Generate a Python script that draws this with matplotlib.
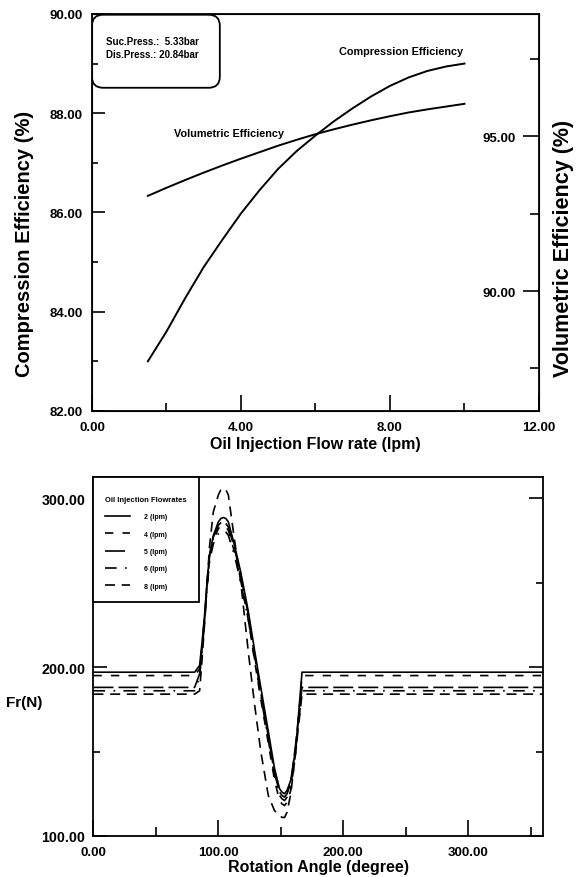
import matplotlib
matplotlib.use("Agg")
import matplotlib.pyplot as plt
from matplotlib.patches import FancyBboxPatch
from matplotlib.ticker import MultipleLocator, FormatStrFormatter

plt.rcParams['font.family'] = ['Liberation Sans', 'DejaVu Sans']
plt.rcParams['font.weight'] = 'bold'
plt.rcParams['axes.labelweight'] = 'bold'

# --- top: efficiencies vs oil injection flow rate
flow = [1.5, 2, 2.5, 3, 3.5, 4, 4.5, 5, 5.5, 6, 6.5, 7, 7.5, 8, 8.5, 9, 9.5, 10]
comp_eff = [83.0, 83.6, 84.27, 84.9, 85.45, 85.98, 86.45, 86.88, 87.24, 87.55,
            87.84, 88.1, 88.34, 88.55, 88.72, 88.85, 88.94, 89.0]
vol_eff = [93.07, 93.33, 93.58, 93.82, 94.05, 94.27, 94.48, 94.69, 94.88, 95.06,
           95.22, 95.37, 95.51, 95.64, 95.76, 95.86, 95.95, 96.04]

# --- bottom: Fr vs rotation angle for each oil injection flow rate
angle = [0, 81, 85, 87, 89, 91, 93, 96, 100, 102, 104, 106, 108, 113, 118, 124, 129,
         134, 140, 145, 149, 151, 153, 155, 158, 162, 167, 360]
fr_2 = [197, 197, 201, 215, 231, 251, 267, 278, 286, 288, 288.6, 288, 286, 272, 256,
        233, 210, 188, 162, 140, 128, 126, 125, 127, 133, 152, 197, 197]
fr_4 = [195, 195, 199, 212, 228, 248, 264, 275, 282, 283.5, 284, 283, 281, 268, 251,
        228, 204, 181, 155, 133, 121, 119, 118, 120, 127, 150, 195, 195]
fr_5 = [188, 188, 196, 213, 230, 250, 266, 277, 284, 285.5, 286, 285, 283, 270, 254,
        231, 207, 185, 159, 137, 126, 124, 123, 125, 131, 155, 188, 188]
fr_6 = [186, 186, 194, 210, 227, 247, 263, 273, 279, 280.5, 281, 280, 278, 266, 250,
        228, 205, 183, 157, 135, 124, 122, 121, 123, 129, 152, 186, 186]
fr_8 = [184, 184, 186, 205, 226, 250, 272, 292, 302, 305, 306, 305, 302, 275, 250,
        209, 178, 150, 124, 115, 112, 111, 111, 114, 125, 150, 184, 184]
flow_labels = ['2 (lpm)', '4 (lpm)', '5 (lpm)', '6 (lpm)', '8 (lpm)']

fig = plt.figure(figsize=(5.76, 8.78), dpi=100)

# ---------------- top chart
ax1 = fig.add_axes([0.1597, 0.5308, 0.776, 0.4522])
ax1.plot(flow, comp_eff, color='black', lw=1.4)
ax1.set_xlim(0, 12)
ax1.set_ylim(82, 90)
ax1.xaxis.set_major_locator(MultipleLocator(4))
ax1.xaxis.set_minor_locator(MultipleLocator(2))
ax1.yaxis.set_major_locator(MultipleLocator(2))
ax1.yaxis.set_minor_locator(MultipleLocator(1))
ax1.xaxis.set_major_formatter(FormatStrFormatter('%.2f'))
ax1.yaxis.set_major_formatter(FormatStrFormatter('%.2f'))
ax1.tick_params(axis='x', which='major', direction='in', length=11.5, width=1.2, labelsize=9.5, pad=7)
ax1.tick_params(axis='x', which='minor', direction='in', length=5.8, width=1.2)
ax1.tick_params(axis='y', which='major', direction='in', length=9.5, width=1.2, labelsize=9.5, pad=6.5)
ax1.tick_params(axis='y', which='minor', direction='in', length=4.5, width=1.2)
for s in ax1.spines.values():
    s.set_linewidth(1.3)

ax2 = ax1.twinx()
ax2.plot(flow, vol_eff, color='black', lw=1.4)
ax2.set_ylim(86.13, 98.94)
ax2.set_yticks([90, 95])
ax2.set_yticks([87.5, 92.5, 97.5], minor=True)
ax2.yaxis.set_major_formatter(FormatStrFormatter('%.2f'))
ax2.tick_params(axis='y', which='major', direction='in', length=11.5, width=1.2, labelsize=9.5, pad=-17)
ax2.tick_params(axis='y', which='minor', direction='in', length=6.5, width=1.2)
for lbl in ax2.get_yticklabels():
    lbl.set_horizontalalignment('right')

ax1.set_xlabel('Oil Injection Flow rate (lpm)', fontsize=11.5)
ax1.xaxis.set_label_coords(0.5, -0.081)
ax1.xaxis.label.set_va('center')
ax1.set_ylabel('Compression Efficiency (%)', fontsize=14.5, va='center')
ax1.yaxis.set_label_coords(-0.152, 0.424)
ax2.set_ylabel('Volumetric Efficiency (%)', fontsize=15.5, va='center', rotation=90)
ax2.yaxis.set_label_coords(1.054, 0.413)

ax1.text(9.95, 89.26, 'Compression Efficiency', fontsize=7.8, ha='right', va='center')
ax1.text(2.21, 87.61, 'Volumetric Efficiency', fontsize=7.8, ha='left', va='center')

box = FancyBboxPatch((0.0, 0.814), 0.286, 0.184, transform=ax1.transAxes,
                     boxstyle='round,pad=0,rounding_size=0.025',
                     facecolor='none', edgecolor='black', lw=1.3, mutation_aspect=1.1)
ax1.add_patch(box)
ax1.text(0.031, 0.933, 'Suc.Press.:  5.33bar', transform=ax1.transAxes,
         fontsize=7, va='center', ha='left')
ax1.text(0.031, 0.899, 'Dis.Press.: 20.84bar', transform=ax1.transAxes,
         fontsize=7, va='center', ha='left')

# ---------------- bottom chart
ax3 = fig.add_axes([0.1623, 0.0467, 0.7804, 0.4089])
styles = ['-', (0, (5, 5.5)), (0, (12, 3)), (0, (7, 5, 1, 5)), (0, (6, 4))]
for vals, lab, ls in zip([fr_2, fr_4, fr_5, fr_6, fr_8], flow_labels, styles):
    ax3.plot(angle, vals, color='black', lw=1.2, linestyle=ls, label=lab)

ax3.set_xlim(0, 360)
ax3.set_ylim(100, 312.6)
ax3.xaxis.set_major_locator(MultipleLocator(100))
ax3.xaxis.set_minor_locator(MultipleLocator(50))
ax3.yaxis.set_major_locator(MultipleLocator(100))
ax3.yaxis.set_minor_locator(MultipleLocator(50))
ax3.xaxis.set_major_formatter(FormatStrFormatter('%.2f'))
ax3.yaxis.set_major_formatter(FormatStrFormatter('%.2f'))
ax3.tick_params(axis='x', which='major', direction='in', length=11.5, width=1.2, labelsize=9.5, pad=7)
ax3.tick_params(axis='x', which='minor', direction='in', length=6.5, width=1.2)
ax3.tick_params(axis='y', which='major', direction='in', length=10, width=1.2, labelsize=10.3,
                pad=6, right=True)
ax3.tick_params(axis='y', which='minor', direction='in', length=5, width=1.2, right=True)
for s in ax3.spines.values():
    s.set_linewidth(1.3)

ax3.set_xlabel('Rotation Angle (degree)', fontsize=11.5)
ax3.xaxis.set_label_coords(0.5, -0.086)
ax3.xaxis.label.set_va('center')
ax3.set_ylabel('Fr(N)', fontsize=11, rotation=0, ha='center', va='center')
ax3.yaxis.set_label_coords(-0.1535, 0.373)

# blank first title line pushes the entries down inside the box
leg = ax3.legend(loc='upper left', bbox_to_anchor=(0, 1), borderaxespad=0,
                 title='\nOil Injection Flowrates', title_fontsize=5.5, fontsize=5,
                 alignment='left', fancybox=False, edgecolor='black', framealpha=1,
                 labelspacing=1.5, handlelength=3.6, handletextpad=2.0, borderpad=1.7)
leg.get_title().set_linespacing(1.0)
leg.get_frame().set_linewidth(1.3)

fig.savefig('out.png', dpi=100)
